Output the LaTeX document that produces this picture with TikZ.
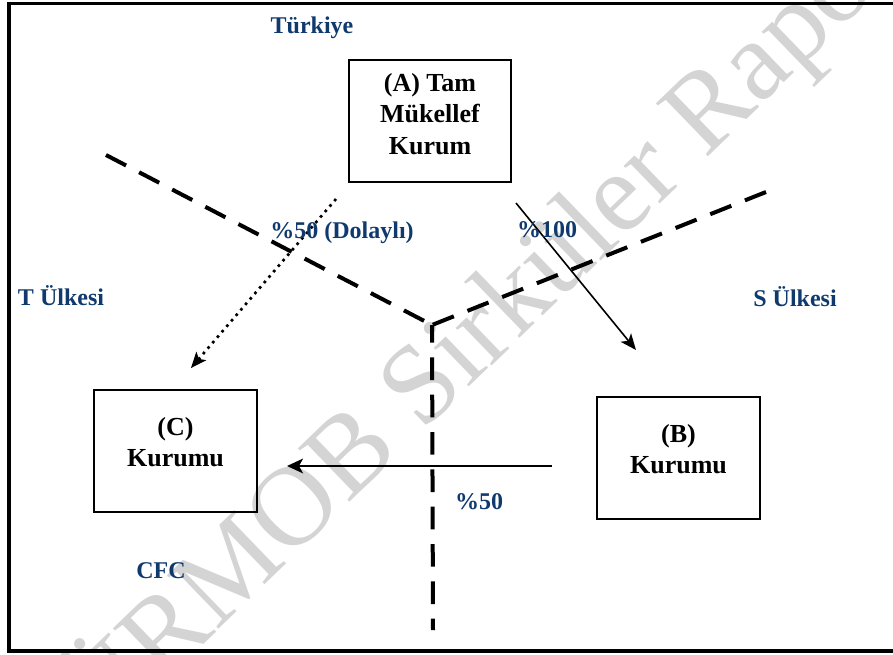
\documentclass[tikz,border=0pt]{standalone}
\usepackage{fontspec}
\setmainfont{Liberation Serif}
\usetikzlibrary{arrows.meta}
\definecolor{lblblue}{RGB}{16,58,110}
\definecolor{wmgray}{RGB}{212,212,212}
\tikzset{
  boxnode/.style={draw=black, line width=1.5pt, rectangle, inner sep=0pt},
  boxtext/.style={align=center, font=\fontsize{19.5}{23.6}\selectfont\bfseries},
  lbl/.style={text=lblblue, font=\fontsize{18}{21}\selectfont\bfseries, anchor=base, inner sep=0pt},
  border/.style={line width=3pt, dash pattern=on 17pt off 11pt},
  solidarrow/.style={line width=1.2pt, -{Stealth[length=12pt,width=10pt,inset=3pt]}},
  dotarrow/.style={line width=2pt, dash pattern=on 2pt off 3.4pt, -{Stealth[length=12pt,width=10pt,inset=3pt,line width=0pt]}},
  heavyarrow/.style={line width=1.6pt, -{Stealth[length=12pt,width=11pt,inset=3pt]}}
}
\begin{document}
\begin{tikzpicture}[x=0.75pt,y=-0.75pt]
\useasboundingbox (0,0) rectangle (893,654);
\begin{scope}
\clip (0,0) rectangle (893,654);
% watermark
\node[rotate=44, text=wmgray, font=\fontsize{85}{85}\selectfont] (wm) at (476,334) {TÜRMOB Sirküler Raporu};
% outer frame
\draw[line width=2.3pt] (9,3.5) rectangle (910,651);
\end{scope}
% dashed country borders
\coordinate (J) at (432,325);
\coordinate (L) at (106,155);
\coordinate (R) at (766,192);
\coordinate (D) at (433,630);
\draw[border] (L) -- (J);
\draw[border] (R) -- (J);
\draw[border, dash phase=3.75pt] (J) -- (D);
% boxes
\node[boxnode, minimum width=162*0.75pt, minimum height=122*0.75pt] (boxA) at (430,121) {};
\node[boxnode, minimum width=163*0.75pt, minimum height=122*0.75pt] (boxC) at (175.5,451) {};
\node[boxnode, minimum width=163*0.75pt, minimum height=122*0.75pt] (boxB) at (678.5,458) {};
\node[boxtext] (textA) at (430,114) {(A) Tam\\Mükellef\\Kurum};
\node[boxtext] (textC) at (175.5,442) {(C)\\Kurumu};
\node[boxtext] (textB) at (678.5,449) {(B)\\Kurumu};
% arrows
\coordinate (dotS) at (336,199);
\coordinate (dotE) at (191,368);
\draw[dotarrow] (dotS) -- (dotE);
\coordinate (solS) at (516,203);
\coordinate (solE) at (636,350);
\draw[solidarrow] (solS) -- (solE);
\coordinate (horS) at (552,466);
\coordinate (horE) at (287,466);
\draw[heavyarrow] (horS) -- (horE);
% labels
\node[lbl] (tr) at (312,33) {Türkiye};
\node[lbl] (dol) at (342,238) {\%50 (Dolaylı)};
\node[lbl] (p100) at (547,237) {\%100};
\node[lbl] (tul) at (61,305) {T Ülkesi};
\node[lbl] (sul) at (795,306) {S Ülkesi};
\node[lbl] (p50) at (479,509) {\%50};
\node[lbl] (cfc) at (161,578) {CFC};
\end{tikzpicture}
\end{document}
